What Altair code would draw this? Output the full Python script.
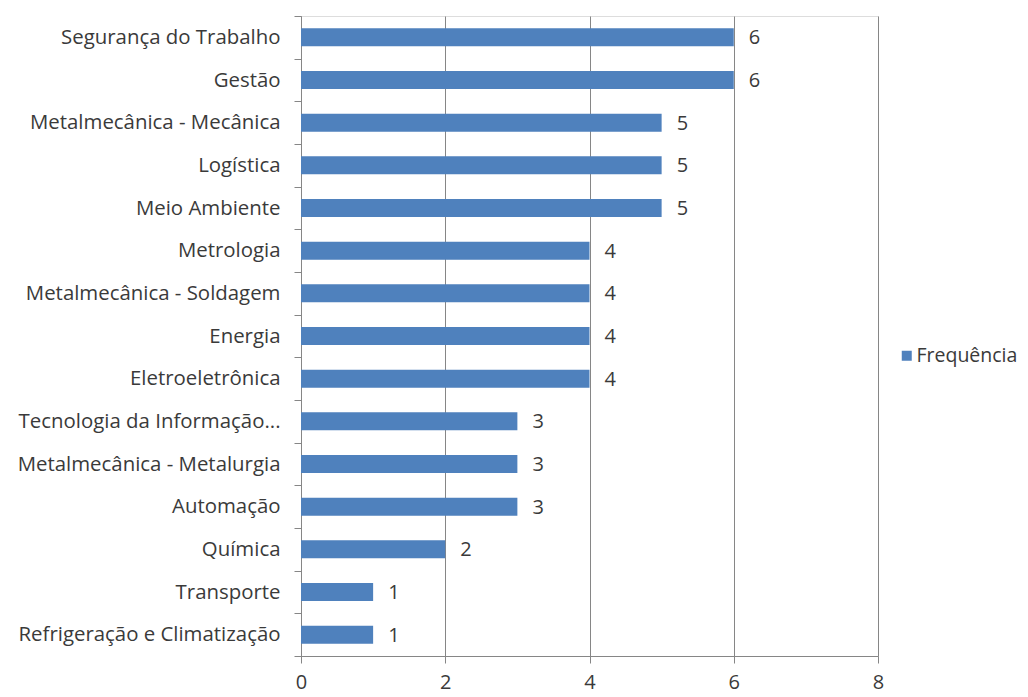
import altair as alt
import pandas as pd

categories = [
    "Segurança do Trabalho",
    "Gestão",
    "Metalmecânica - Mecânica",
    "Logística",
    "Meio Ambiente",
    "Metrologia",
    "Metalmecânica - Soldagem",
    "Energia",
    "Eletroeletrônica",
    "Tecnologia da Informação...",
    "Metalmecânica - Metalurgia",
    "Automação",
    "Química",
    "Transporte",
    "Refrigeração e Climatização",
]
values = [6, 6, 5, 5, 5, 4, 4, 4, 4, 3, 3, 3, 2, 1, 1]
series_name = "Frequência"
x_ticks = [0, 2, 4, 6, 8]

df = pd.DataFrame({"cat": categories, "val": values, "serie": [series_name] * len(values)})

FONT = "Open Sans"
TEXT = "#3a3a3a"
GRID = "#868686"
BAR = "#4f81bd"
FS = 20.4

y_enc = alt.Y(
    "cat:N",
    sort=categories,
    title=None,
    scale=alt.Scale(paddingInner=0, paddingOuter=0),
    axis=alt.Axis(
        tickBand="extent",
        tickSize=7,
        tickColor=GRID,
        domainColor=GRID,
        labelPadding=14,
        labelFontSize=FS,
        labelFont=FONT,
        labelColor=TEXT,
        labelLimit=400,
        grid=False,
    ),
)
x_enc = alt.X(
    "val:Q",
    title=None,
    scale=alt.Scale(domain=[0, 8], nice=False),
    axis=alt.Axis(
        values=x_ticks,
        format="d",
        tickSize=7,
        tickColor=GRID,
        domainColor=GRID,
        gridColor=GRID,
        gridWidth=1,
        labelPadding=9,
        labelFontSize=20,
        labelFont=FONT,
        labelColor=TEXT,
        labelFlush=False,
    ),
)

bars = alt.Chart(df).mark_bar(size=18).encode(
    x=x_enc,
    y=y_enc,
    color=alt.Color(
        "serie:N",
        scale=alt.Scale(domain=[series_name], range=[BAR]),
        legend=alt.Legend(
            title=None,
            orient="none",
            legendX=596,
            legendY=330,
            symbolType="square",
            symbolSize=100,
            symbolStrokeWidth=0,
            labelFontSize=19.5,
            labelFont=FONT,
            labelColor=TEXT,
            labelOffset=0,
        ),
    ),
)

labels = alt.Chart(df).mark_text(
    align="left", baseline="middle", dx=15, dy=1, fontSize=20, font=FONT, color=TEXT
).encode(x="val:Q", y=alt.Y("cat:N", sort=categories), text="val:Q")

chart = (
    alt.layer(bars, labels)
    .properties(
        width=577,
        height=640,
        autosize=alt.AutoSizeParams(type="none"),
        padding={"left": 293, "top": 8, "right": 142, "bottom": 40},
    )
    .configure_view(stroke=None)
    .configure(background="white")
)

chart.save("out.html", embed_options={"renderer": "svg", "actions": False})
